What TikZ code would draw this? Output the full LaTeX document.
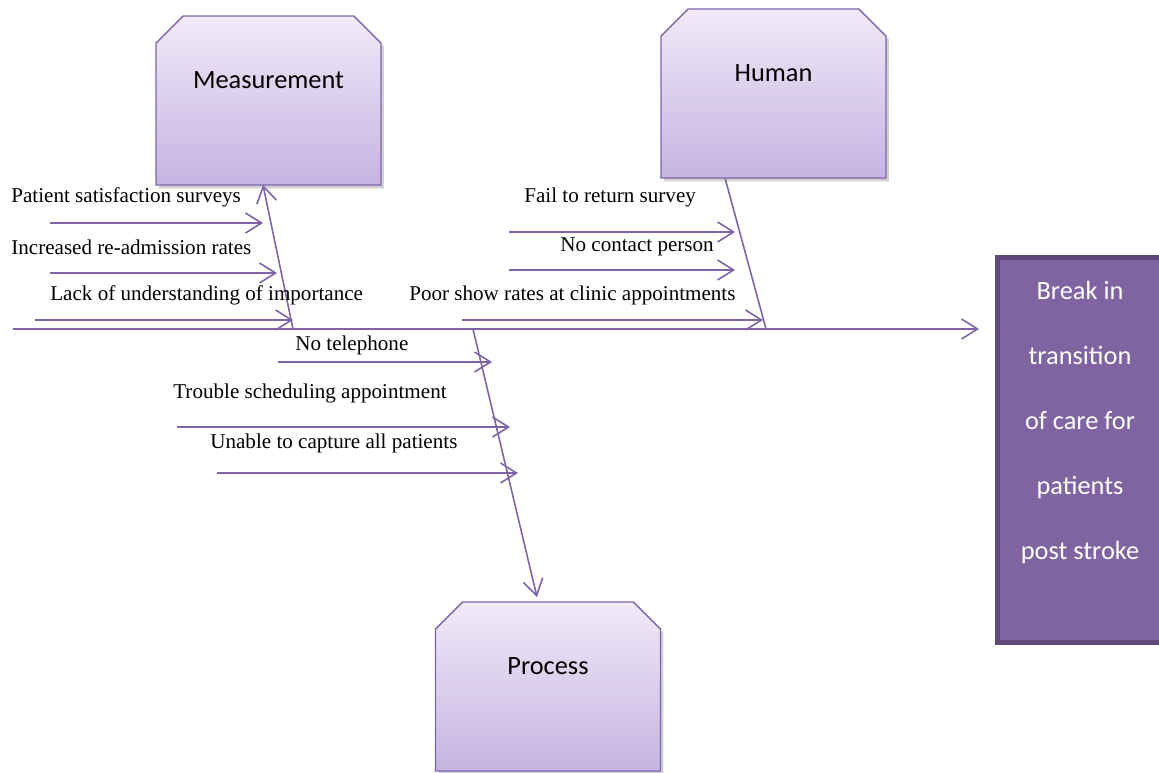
\documentclass[tikz,border=0pt]{standalone}
\usepackage{fontspec}
\setmainfont{Liberation Serif}
\newfontfamily\calibrifont{Carlito}
\usetikzlibrary{arrows.meta, shadows}
\definecolor{bone}{HTML}{7F63A8}
\definecolor{boxtop}{HTML}{F0EAF8}
\definecolor{boxbottom}{HTML}{C6B3E2}
\definecolor{effectfill}{HTML}{8064A2}
\definecolor{effectline}{HTML}{5E4979}
\tikzset{
  bone/.style={draw=bone, line width=0.9pt},
  bonearrow/.style={bone, -{Straight Barb[length=0.32cm,width=0.4cm]}},
  catbox/.style={rectangle, minimum width=4.5cm, minimum height=3.38cm, inner sep=0pt, outer sep=0pt},
  catshape/.style={draw=bone, line width=0.8pt, top color=boxtop, bottom color=boxbottom,
    drop shadow={shadow xshift=0.06cm, shadow yshift=-0.07cm, opacity=0.3, fill=black!60}},
  cattext/.style={font=\calibrifont\fontsize{15pt}{18pt}\selectfont, yshift=0.4cm},
  cause/.style={font=\fontsize{12pt}{14pt}\selectfont, inner sep=0pt, anchor=west}
}
% box with the two top corners cut off
\newcommand\chamferbox[1]{%
  \path[catshape] (#1.south west) -- ([yshift=-0.54cm]#1.north west) -- ([xshift=0.54cm]#1.north west)
    -- ([xshift=-0.54cm]#1.north east) -- ([yshift=-0.54cm]#1.north east) -- (#1.south east) -- cycle;}
\begin{document}
\begin{tikzpicture}[x=0.02cm, y=0.02cm]
\path[use as bounding box, clip] (0,0) rectangle (1159,-773);

% Effect
\node[fill=effectfill, draw=effectline, line width=2.8pt, minimum width=3.45cm, minimum height=7.7cm,
  inner sep=0pt, outer sep=0pt, drop shadow={shadow xshift=0.05cm, shadow yshift=-0.05cm, opacity=0.25}]
  (effect) at (1083.75,-450) {};
\node[white, font=\calibrifont\fontsize{15pt}{37pt}\selectfont, align=center]
  (effecttext) at ([xshift=-0.075cm, yshift=0.55cm]effect.center)
  {Break in\\transition\\of care for\\patients\\post stroke};

% Spine
\coordinate (tail) at (13,-329);
\draw[bonearrow, shorten >=0.37cm] (tail) -- (tail -| effect.west);

% Measurement
\node[catbox] (meas) at (268.5,-100.5) {};
\chamferbox{meas}
\node[cattext] (meastext) at (meas.center) {Measurement};
\coordinate (mjoin) at (293,-329);
\draw[bonearrow] (mjoin) -- ([xshift=-0.11cm]meas.south);
\node[cause] (survey) at (11,-197) {Patient satisfaction surveys};
\node[cause] (readmit) at (11,-247) {Increased re-admission rates};
\node[cause] (understand) at (50,-295) {Lack of understanding of importance};
\coordinate (m1) at (50,-223); \coordinate (m1e) at (263,-223);
\coordinate (m2) at (50,-273); \coordinate (m2e) at (277,-273);
\coordinate (m3) at (35,-320); \coordinate (m3e) at (293,-320);
\draw[bonearrow] (m1) -- (m1e);
\draw[bonearrow] (m2) -- (m2e);
\draw[bonearrow] (m3) -- (m3e);

% Human
\node[catbox] (human) at (773.5,-93.5) {};
\chamferbox{human}
\node[cattext] (humantext) at (human.center) {Human};
\coordinate (hjoin) at (766,-329);
\draw[bone] (hjoin) -- ([xshift=-0.97cm]human.south);
\node[cause] (returns) at (524,-197) {Fail to return survey};
\node[cause] (contact) at (560,-247) {No contact person};
\node[cause] (showrate) at (409,-295) {Poor show rates at clinic appointments};
\coordinate (h1) at (509,-232); \coordinate (h1e) at (735,-232);
\coordinate (h2) at (509,-270); \coordinate (h2e) at (735,-270);
\coordinate (h3) at (462,-320); \coordinate (h3e) at (763,-320);
\draw[bonearrow] (h1) -- (h1e);
\draw[bonearrow] (h2) -- (h2e);
\draw[bonearrow] (h3) -- (h3e);

% Process
\node[catbox] (proc) at (548,-686.5) {};
\chamferbox{proc}
\node[cattext] (proctext) at (proc.center) {Process};
\coordinate (pjoin) at (473,-329);
\draw[bonearrow] (pjoin) -- ([xshift=-0.22cm,yshift=0.1cm]proc.north);
\node[cause] (phone) at (295,-345) {No telephone};
\node[cause] (schedule) at (173,-393) {Trouble scheduling appointment};
\node[cause] (capture) at (210,-443) {Unable to capture all patients};
\coordinate (p1) at (278,-362); \coordinate (p1e) at (492,-362);
\coordinate (p2) at (177,-427); \coordinate (p2e) at (510,-427);
\coordinate (p3) at (217,-473); \coordinate (p3e) at (518,-473);
\draw[bonearrow] (p1) -- (p1e);
\draw[bonearrow] (p2) -- (p2e);
\draw[bonearrow] (p3) -- (p3e);
\end{tikzpicture}
\end{document}
